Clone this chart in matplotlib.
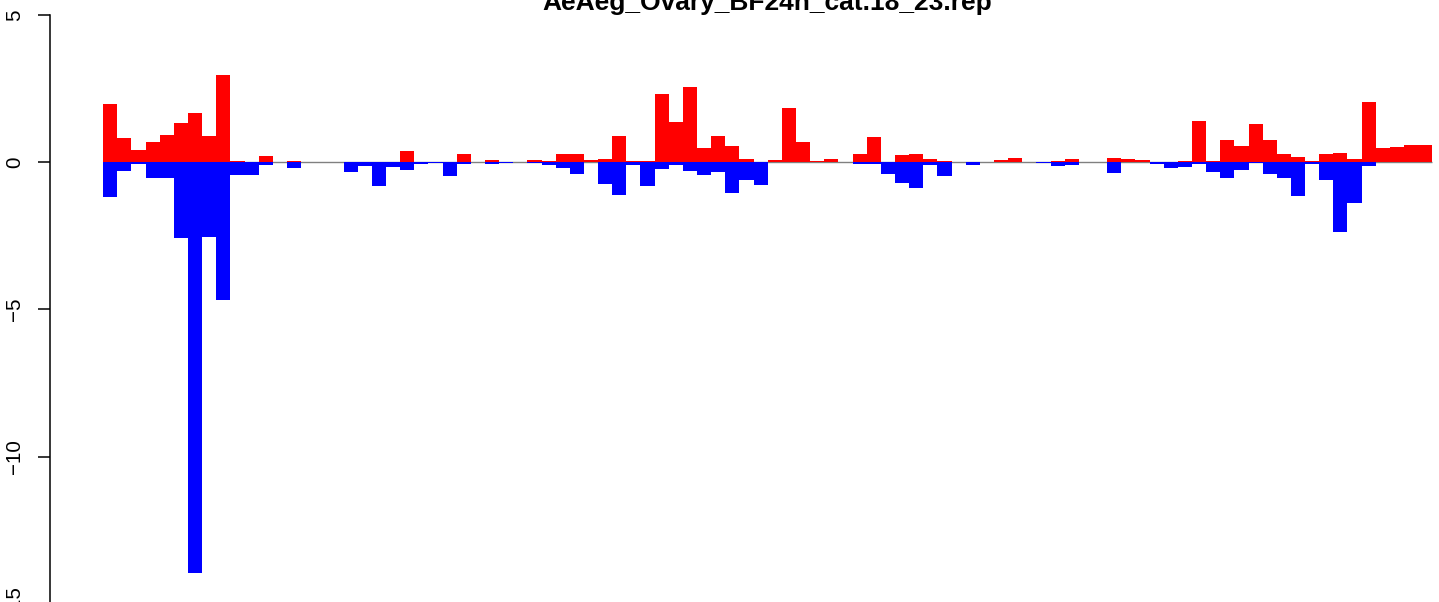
"""Up/down bar chart for AeAeg_Ovary_BF24h_cat.18_23.rep (R barplot look)."""
import matplotlib
matplotlib.use("Agg")
import matplotlib.pyplot as plt
import numpy as np

plt.rcParams.update({"font.family": ["Liberation Sans", "DejaVu Sans"], "font.size": 14.8})

title = "AeAeg_Ovary_BF24h_cat.18_23.rep"
up = [1.96, 0.80, 0.40, 0.67, 0.91, 1.31, 1.65, 0.87, 2.94, 0.02,
      0.0, 0.19, 0.0, 0.03, 0.0, 0.0, 0.0, 0.0, 0.0, 0.0,
      0.0, 0.37, 0.0, 0.0, 0.0, 0.27, 0.0, 0.07, 0.0, 0.0,
      0.07, 0.03, 0.27, 0.27, 0.07, 0.10, 0.88, 0.03, 0.03, 2.31,
      1.36, 2.55, 0.48, 0.88, 0.54, 0.10, 0.0, 0.07, 1.83, 0.68,
      0.03, 0.10, 0.0, 0.27, 0.85, 0.0, 0.24, 0.27, 0.10, 0.03,
      0.0, 0.0, 0.0, 0.07, 0.14, 0.0, 0.0, 0.03, 0.10, 0.0,
      0.0, 0.14, 0.10, 0.07, 0.0, 0.0, 0.03, 1.39, 0.03, 0.75,
      0.54, 1.29, 0.75, 0.27, 0.17, 0.03, 0.27, 0.31, 0.10, 2.04,
      0.48, 0.51, 0.58, 0.58]
down = [-1.19, -0.31, -0.07, -0.54, -0.54, -2.58, -13.97, -2.55, -4.67, -0.43,
        -0.43, -0.10, 0.0, -0.19, 0.0, 0.0, 0.0, -0.34, -0.12, -0.81,
        -0.16, -0.27, -0.07, -0.03, -0.48, -0.07, 0.0, -0.07, -0.03, 0.0,
        -0.03, -0.10, -0.19, -0.41, 0.0, -0.75, -1.11, -0.10, -0.81, -0.24,
        -0.10, -0.31, -0.44, -0.34, -1.05, -0.61, -0.78, 0.0, 0.0, 0.0,
        0.0, 0.0, 0.0, -0.07, -0.07, -0.41, -0.71, -0.88, -0.10, -0.48,
        0.0, -0.10, 0.0, 0.0, 0.0, 0.0, -0.03, -0.14, -0.10, 0.0,
        0.0, -0.37, 0.0, 0.0, -0.07, -0.20, -0.17, -0.07, -0.34, -0.54,
        -0.27, -0.03, -0.41, -0.54, -1.15, -0.07, -0.61, -2.38, -1.39, -0.14,
        0.0, 0.0, 0.0, 0.0]
yticks = [5, 0, -5, -10, -15]

W, H = 1439, 602
n = len(up)
x = np.arange(n)

fig = plt.figure(figsize=(W / 100, H / 100), dpi=100)
# plot region is cropped by the image: it runs past the right and bottom edges
ax_l, ax_b = 50, 620          # px from left / from top
ax = fig.add_axes([ax_l / W, 1 - ax_b / H, (W - ax_l) / W, ax_b / H])

# R barplot: 4% padding around the bars
pad = 0.04 * n
ax.set_xlim(-pad, -pad + (W - ax_l) / 14.14)
ax.set_ylim(-(ax_b - 162) / 29.45, 162 / 29.45)

ax.hlines(0, 0, n, color="#808080", lw=1, zorder=1)
ax.bar(x, up, width=1, align="edge", color="#ff0000", lw=0, zorder=2)
ax.bar(x, down, width=1, align="edge", color="#0000ff", lw=0, zorder=2)

for s in ["top", "right", "bottom"]:
    ax.spines[s].set_visible(False)
ax.spines["left"].set_bounds(-15, 5)
ax.spines["left"].set_linewidth(1.1)
ax.set_xticks([])
ax.set_yticks(yticks)
ax.set_yticklabels([str(t).replace("-", "\u2212") for t in yticks], rotation=90, va="center")
ax.tick_params(axis="y", length=9, width=1.1, pad=9.5)

fig.text((ax_l + (W - ax_l) * 0 + 717.5) / W, 1 - 10 / H, title,
         ha="center", va="baseline", fontsize=19, fontweight="bold")

fig.savefig("out.png", dpi=100)
